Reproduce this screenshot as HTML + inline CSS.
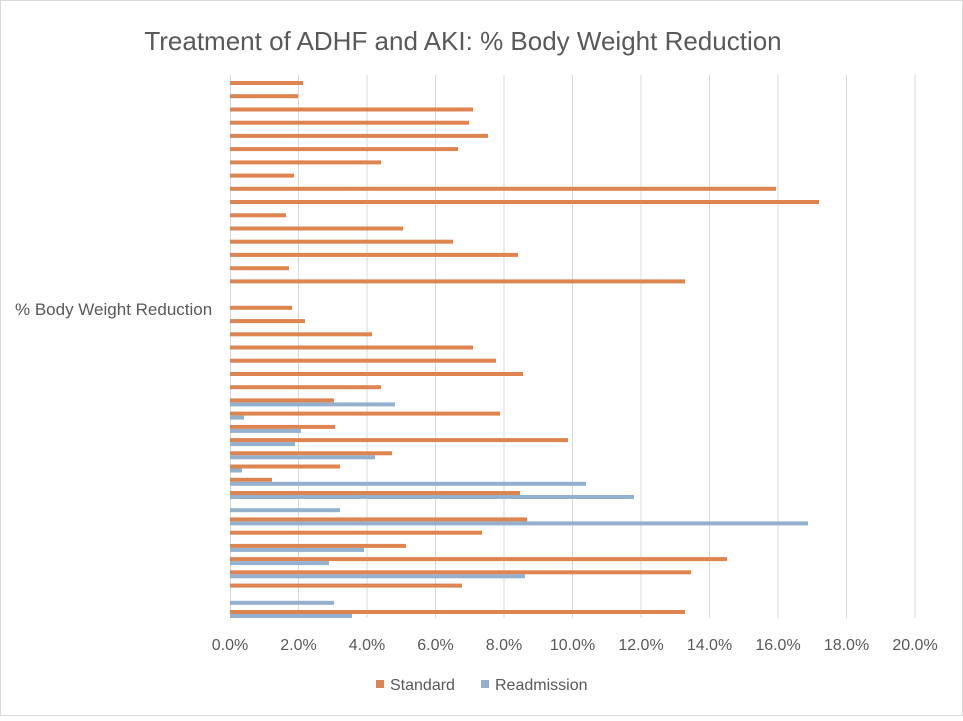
<!DOCTYPE html>
<html><head><meta charset="utf-8"><style>
body{margin:0;background:#fff}
</style></head><body>
<svg width="963" height="716" xmlns="http://www.w3.org/2000/svg" font-family="Liberation Sans, sans-serif">
<rect x="0.5" y="0.5" width="962" height="715" fill="#fff" stroke="#d9d9d9"/>
<text x="463" y="50" font-size="26" fill="#595959" text-anchor="middle">Treatment of ADHF and AKI: % Body Weight Reduction</text>
<g stroke="#d9d9d9" stroke-width="1">
<line x1="230.5" y1="75" x2="230.5" y2="618"/>
<line x1="298.5" y1="75" x2="298.5" y2="618"/>
<line x1="367" y1="75" x2="367" y2="618"/>
<line x1="435.5" y1="75" x2="435.5" y2="618"/>
<line x1="504" y1="75" x2="504" y2="618"/>
<line x1="572.5" y1="75" x2="572.5" y2="618"/>
<line x1="641" y1="75" x2="641" y2="618"/>
<line x1="709.5" y1="75" x2="709.5" y2="618"/>
<line x1="778" y1="75" x2="778" y2="618"/>
<line x1="846.5" y1="75" x2="846.5" y2="618"/>
<line x1="915" y1="75" x2="915" y2="618"/>
</g>
<g font-size="16" fill="#595959" text-anchor="middle">
<text x="230" y="650">0.0%</text><text x="298.5" y="650">2.0%</text><text x="367" y="650">4.0%</text><text x="435.5" y="650">6.0%</text><text x="504" y="650">8.0%</text><text x="572.5" y="650">10.0%</text><text x="641" y="650">12.0%</text><text x="709.5" y="650">14.0%</text><text x="778" y="650">16.0%</text><text x="846.5" y="650">18.0%</text><text x="915" y="650">20.0%</text>
</g>
<text x="15" y="315" font-size="17" fill="#595959">% Body Weight Reduction</text>
<g fill="#dd8450">
<rect x="230" y="81" width="73" height="4"/>
<rect x="230" y="94.2" width="68" height="4"/>
<rect x="230" y="107.5" width="243" height="4"/>
<rect x="230" y="120.7" width="239" height="4"/>
<rect x="230" y="133.9" width="258" height="4"/>
<rect x="230" y="147.1" width="228" height="4"/>
<rect x="230" y="160.4" width="151" height="4"/>
<rect x="230" y="173.6" width="64" height="4"/>
<rect x="230" y="186.8" width="546" height="4"/>
<rect x="230" y="200" width="589" height="4"/>
<rect x="230" y="213.3" width="56" height="4"/>
<rect x="230" y="226.5" width="173" height="4"/>
<rect x="230" y="239.7" width="223" height="4"/>
<rect x="230" y="252.9" width="288" height="4"/>
<rect x="230" y="266.2" width="59" height="4"/>
<rect x="230" y="279.4" width="455" height="4"/>
<rect x="230" y="305.8" width="62" height="4"/>
<rect x="230" y="319.1" width="75" height="4"/>
<rect x="230" y="332.3" width="142" height="4"/>
<rect x="230" y="345.5" width="243" height="4"/>
<rect x="230" y="358.7" width="266" height="4"/>
<rect x="230" y="372" width="293" height="4"/>
<rect x="230" y="385.2" width="151" height="4"/>
<rect x="230" y="398.4" width="104" height="4"/>
<rect x="230" y="411.6" width="270" height="4"/>
<rect x="230" y="424.9" width="105" height="4"/>
<rect x="230" y="438.1" width="338" height="4"/>
<rect x="230" y="451.3" width="162" height="4"/>
<rect x="230" y="464.5" width="110" height="4"/>
<rect x="230" y="477.8" width="42" height="4"/>
<rect x="230" y="491" width="290" height="4"/>
<rect x="230" y="517.4" width="297" height="4"/>
<rect x="230" y="530.7" width="252" height="4"/>
<rect x="230" y="543.9" width="176" height="4"/>
<rect x="230" y="557.1" width="497" height="4"/>
<rect x="230" y="570.3" width="461" height="4"/>
<rect x="230" y="583.6" width="232" height="4"/>
<rect x="230" y="610" width="455" height="4"/>
</g>
<g fill="#93b1cf">
<rect x="230" y="402.4" width="165" height="4"/>
<rect x="230" y="415.6" width="14" height="4"/>
<rect x="230" y="428.9" width="71" height="4"/>
<rect x="230" y="442.1" width="65" height="4"/>
<rect x="230" y="455.3" width="145" height="4"/>
<rect x="230" y="468.5" width="12" height="4"/>
<rect x="230" y="481.8" width="356" height="4"/>
<rect x="230" y="495" width="404" height="4"/>
<rect x="230" y="508.2" width="110" height="4"/>
<rect x="230" y="521.4" width="578" height="4"/>
<rect x="230" y="547.9" width="134" height="4"/>
<rect x="230" y="561.1" width="99" height="4"/>
<rect x="230" y="574.3" width="295" height="4"/>
<rect x="230" y="600.8" width="104" height="4"/>
<rect x="230" y="614" width="122" height="4"/>
</g>
<rect x="376" y="680" width="8" height="8" fill="#dd8450"/>
<text x="390" y="690" font-size="16" fill="#595959">Standard</text>
<rect x="481" y="680" width="8" height="8" fill="#93b1cf"/>
<text x="495" y="690" font-size="16" fill="#595959">Readmission</text>
</svg>
</body></html>
